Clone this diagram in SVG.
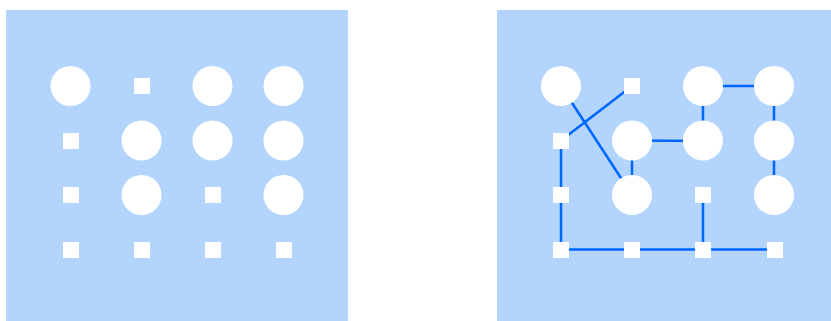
<svg xmlns="http://www.w3.org/2000/svg" width="831" height="321" viewBox="0 0 831 321">
<style>
.panel{fill:#b3d5fd}
.c{fill:#ffffff}
.s{fill:#ffffff}
.e{stroke:#0066ff;stroke-width:2.5;fill:none}
</style>
<rect class="panel" x="6" y="10" width="342" height="311"/>
<rect class="panel" x="497" y="10" width="334" height="311"/>
<g id="left">
<g id="L11"><circle class="c" cx="70.5" cy="86" r="20"/></g>
<g id="L12"><rect class="s" x="134" y="78" width="16" height="16"/></g>
<g id="L13"><circle class="c" cx="212.5" cy="86" r="20"/></g>
<g id="L14"><circle class="c" cx="283.5" cy="86" r="20"/></g>
<g id="L21"><rect class="s" x="63" y="133" width="16" height="16"/></g>
<g id="L22"><circle class="c" cx="141.5" cy="140.5" r="20"/></g>
<g id="L23"><circle class="c" cx="212.5" cy="140.5" r="20"/></g>
<g id="L24"><circle class="c" cx="283.5" cy="140.5" r="20"/></g>
<g id="L31"><rect class="s" x="63" y="187" width="16" height="16"/></g>
<g id="L32"><circle class="c" cx="141.5" cy="195" r="20"/></g>
<g id="L33"><rect class="s" x="205" y="187" width="16" height="16"/></g>
<g id="L34"><circle class="c" cx="283.5" cy="195" r="20"/></g>
<g id="L41"><rect class="s" x="63" y="242" width="16" height="16"/></g>
<g id="L42"><rect class="s" x="134" y="242" width="16" height="16"/></g>
<g id="L43"><rect class="s" x="205" y="242" width="16" height="16"/></g>
<g id="L44"><rect class="s" x="276" y="242" width="16" height="16"/></g>
</g>
<g id="connectors">
<line class="e" x1="561" y1="86" x2="632" y2="195"/>
<line class="e" x1="632" y1="86" x2="561" y2="140.5"/>
<line class="e" x1="632" y1="140.5" x2="703" y2="141"/>
<line class="e" x1="632" y1="140.5" x2="632" y2="195"/>
<line class="e" x1="703" y1="86" x2="774" y2="86"/>
<line class="e" x1="703" y1="86" x2="703" y2="140.5"/>
<line class="e" x1="774" y1="86" x2="774" y2="195"/>
<line class="e" x1="561" y1="140.5" x2="561" y2="249.5"/>
<line class="e" x1="561" y1="249.5" x2="775" y2="249.5"/>
<line class="e" x1="703" y1="195" x2="703" y2="249.5"/>
</g>
<g id="right">
<g id="R11"><circle class="c" cx="561" cy="86" r="20"/></g>
<g id="R12"><rect class="s" x="624" y="78" width="16" height="16"/></g>
<g id="R13"><circle class="c" cx="703" cy="86" r="20"/></g>
<g id="R14"><circle class="c" cx="774" cy="86" r="20"/></g>
<g id="R21"><rect class="s" x="553" y="133" width="16" height="16"/></g>
<g id="R22"><circle class="c" cx="632" cy="140.5" r="20"/></g>
<g id="R23"><circle class="c" cx="703" cy="140.5" r="20"/></g>
<g id="R24"><circle class="c" cx="774" cy="140.5" r="20"/></g>
<g id="R31"><rect class="s" x="553" y="187" width="16" height="16"/></g>
<g id="R32"><circle class="c" cx="632" cy="195" r="20"/></g>
<g id="R33"><rect class="s" x="695" y="187" width="16" height="16"/></g>
<g id="R34"><circle class="c" cx="774" cy="195" r="20"/></g>
<g id="R41"><rect class="s" x="553" y="242" width="16" height="16"/></g>
<g id="R42"><rect class="s" x="624" y="242" width="16" height="16"/></g>
<g id="R43"><rect class="s" x="695" y="242" width="16" height="16"/></g>
<g id="R44"><rect class="s" x="767" y="242" width="16" height="16"/></g>
</g>
</svg>
